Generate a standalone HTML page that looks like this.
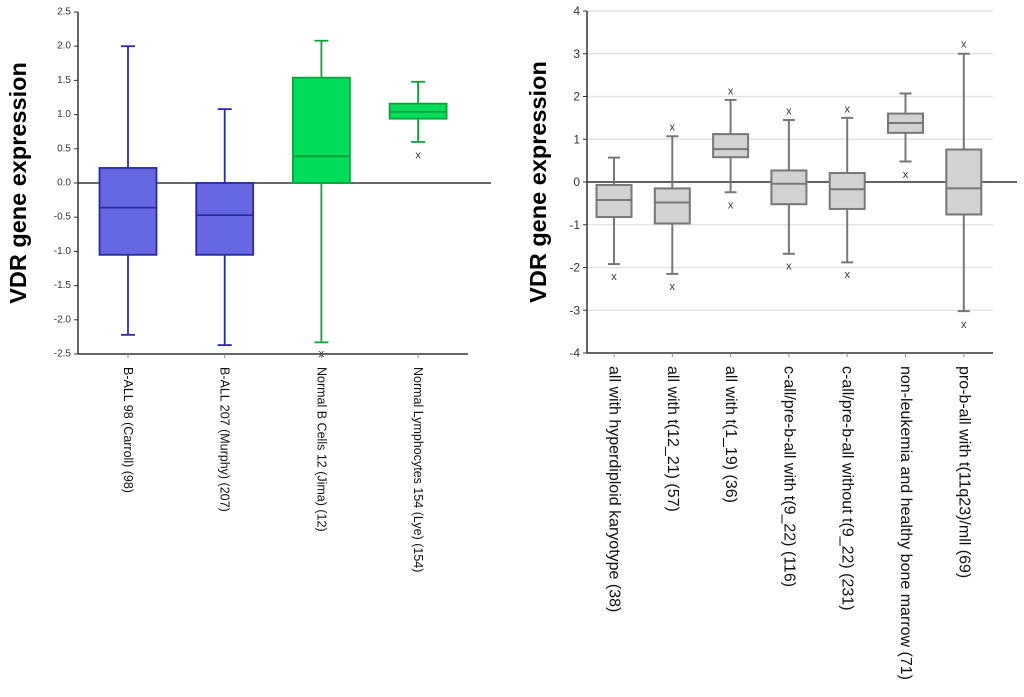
<!DOCTYPE html>
<html><head><meta charset="utf-8"><style>
body{margin:0;background:#fff}
svg{display:block;font-family:"Liberation Sans",Arial,sans-serif}
</style></head><body>
<svg id="chart" width="1024" height="697" viewBox="0 0 1024 697" xmlns="http://www.w3.org/2000/svg">
<g id="left"></g>
<g id="right"></g>
</svg>
<script>
// Left chart data
const leftCats = ["B-ALL 98 (Carroll) (98)","B-ALL 207 (Murphy) (207)","Normal B Cells 12 (Jima) (12)","Normal Lymphocytes 154 (Lye) (154)"];
const leftWhiskHi = [2.0, 1.08, 2.08, 1.48];
const leftQ3 = [0.22, 0.0, 1.54, 1.16];
const leftMed = [-0.36, -0.47, 0.39, 1.04];
const leftQ1 = [-1.05, -1.05, 0.0, 0.94];
const leftWhiskLo = [-2.22, -2.37, -2.33, 0.6];
const leftOutliers = [[], [], [-2.5], [0.4]];
const leftTicks = ["2.5","2.0","1.5","1.0","0.5","0.0","-0.5","-1.0","-1.5","-2.0","-2.5"];
// Right chart data
const rightCats = ["all with hyperdiploid karyotype (38)","all with t(12_21) (57)","all with t(1_19) (36)","c-all/pre-b-all with t(9_22) (116)","c-all/pre-b-all without t(9_22) (231)","non-leukemia and healthy bone marrow (71)","pro-b-all with t(11q23)/mll (69)"];
const rightWhiskHi = [0.57, 1.07, 1.92, 1.45, 1.5, 2.07, 3.0];
const rightQ3 = [-0.07, -0.15, 1.12, 0.27, 0.21, 1.6, 0.76];
const rightMed = [-0.42, -0.48, 0.77, -0.04, -0.17, 1.38, -0.15];
const rightQ1 = [-0.82, -0.97, 0.58, -0.52, -0.63, 1.15, -0.76];
const rightWhiskLo = [-1.92, -2.15, -0.24, -1.68, -1.88, 0.48, -3.02];
const rightOutliers = [[-2.22], [1.28, -2.46], [2.12, -0.55], [1.65, -1.98], [1.7, -2.18], [0.16], [3.22, -3.35]];
const rightTicks = ["4","3","2","1","0","-1","-2","-3","-4"];

const NS = "http://www.w3.org/2000/svg";
function mk(parent, tag, attrs, text){
  const e = document.createElementNS(NS, tag);
  for (const k in attrs) e.setAttribute(k, attrs[k]);
  if (text !== undefined) e.textContent = text;
  parent.appendChild(e);
  return e;
}

function drawPanel(g, cfg){
  const y = v => cfg.y0 + (cfg.vmax - v) / (cfg.vmax - cfg.vmin) * (cfg.y1 - cfg.y0);
  const xs = i => cfg.xFirst + i * cfg.step;
  const t = mk(g, "text", {x: cfg.titleX, y: (cfg.y0 + cfg.y1) / 2, "font-size": 23.5, "font-weight": "bold", "text-anchor": "middle", "dominant-baseline": "central", transform: `rotate(-90 ${cfg.titleX} ${(cfg.y0 + cfg.y1) / 2})`}, "VDR gene expression");
  
  
  cfg.ticks.forEach(lbl => {
    const v = parseFloat(lbl), yy = y(v);
    if (cfg.grid && v !== cfg.vmin) {
      const gl = mk(g, "line", {x1: cfg.axisX, x2: cfg.gridEnd, y1: yy, y2: yy, stroke: "#e4e4e4", "stroke-width": 1.5});
      
      
    }
    const tk = mk(g, "line", {x1: cfg.axisX - 4, x2: cfg.axisX, y1: yy, y2: yy, stroke: "#333", "stroke-width": 1});
    
    
    const tl = mk(g, "text", {x: cfg.axisX - 7, y: yy, "font-size": cfg.tickFont, "text-anchor": "end", "dominant-baseline": "central", fill: "#333"}, lbl);
    
    
  });
  const ya = mk(g, "line", {x1: cfg.axisX, x2: cfg.axisX, y1: cfg.y0, y2: cfg.y1, stroke: "#333", "stroke-width": 1.5});
  
  
  const xa = mk(g, "line", {x1: cfg.axisX, x2: cfg.xAxisEnd, y1: cfg.y1, y2: cfg.y1, stroke: "#333", "stroke-width": 1.5});
  
  
  const zl = mk(g, "line", {x1: cfg.axisX, x2: cfg.zeroEnd, y1: y(0), y2: y(0), stroke: "#333", "stroke-width": 1.5});
  
  
  cfg.cats.forEach((c, i) => {
    const cx = xs(i), hw = cfg.boxW / 2, cap = cfg.capW / 2;
    const fill = cfg.fill[i], stroke = cfg.stroke[i];
    const bx = mk(g, "g", {});
    
    
    mk(bx, "line", {x1: cx, x2: cx, y1: y(cfg.hi[i]), y2: y(cfg.q3[i]), stroke, "stroke-width": cfg.sw});
    mk(bx, "line", {x1: cx, x2: cx, y1: y(cfg.q1[i]), y2: y(cfg.lo[i]), stroke, "stroke-width": cfg.sw});
    mk(bx, "line", {x1: cx - cap, x2: cx + cap, y1: y(cfg.hi[i]), y2: y(cfg.hi[i]), stroke, "stroke-width": cfg.sw});
    mk(bx, "line", {x1: cx - cap, x2: cx + cap, y1: y(cfg.lo[i]), y2: y(cfg.lo[i]), stroke, "stroke-width": cfg.sw});
    mk(bx, "rect", {x: cx - hw, y: y(cfg.q3[i]), width: cfg.boxW, height: y(cfg.q1[i]) - y(cfg.q3[i]), fill, stroke, "stroke-width": cfg.sw});
    mk(bx, "line", {x1: cx - hw, x2: cx + hw, y1: y(cfg.med[i]), y2: y(cfg.med[i]), stroke, "stroke-width": cfg.sw});
    cfg.out[i].forEach(o => {
      const ot = mk(g, "text", {x: cx, y: y(o), "font-size": 11, "text-anchor": "middle", "dominant-baseline": "central", fill: "#333"}, "x");
      
      
    });
    const xt = mk(g, "line", {x1: cx, x2: cx, y1: cfg.y1, y2: cfg.y1 + 4, stroke: "#888", "stroke-width": 1});
    
    
    const ly = cfg.y1 + 13;
    const xl = mk(g, "text", {x: cx, y: ly, "font-size": cfg.labelFont, "dominant-baseline": "central", fill: "#111", transform: `rotate(90 ${cx} ${ly})`}, c);
    
    
  });
}

drawPanel(document.getElementById("left"), {
  cats: leftCats, hi: leftWhiskHi, q3: leftQ3, med: leftMed, q1: leftQ1, lo: leftWhiskLo, out: leftOutliers, ticks: leftTicks,
  vmax: 2.5, vmin: -2.5, y0: 12, y1: 354, axisX: 78, xAxisEnd: 468, zeroEnd: 491, xFirst: 128, step: 96.7,
  boxW: 57, capW: 14, sw: 1.8, titleX: 18, tickFont: 10, labelFont: 12.5, grid: false,
  fill: ["#6767e2", "#6767e2", "#00dd5a", "#00dd5a"], stroke: ["#2a2aa0", "#2a2aa0", "#12a03a", "#12a03a"]
});
drawPanel(document.getElementById("right"), {
  cats: rightCats, hi: rightWhiskHi, q3: rightQ3, med: rightMed, q1: rightQ1, lo: rightWhiskLo, out: rightOutliers, ticks: rightTicks,
  vmax: 4, vmin: -4, y0: 11, y1: 353, axisX: 587, xAxisEnd: 993, zeroEnd: 1017, gridEnd: 993, xFirst: 614, step: 58.3,
  boxW: 35, capW: 12, sw: 2, titleX: 538, tickFont: 12, labelFont: 16, grid: true,
  fill: Array(7).fill("#d2d2d2"), stroke: Array(7).fill("#777")
});
</script>
</body></html>
